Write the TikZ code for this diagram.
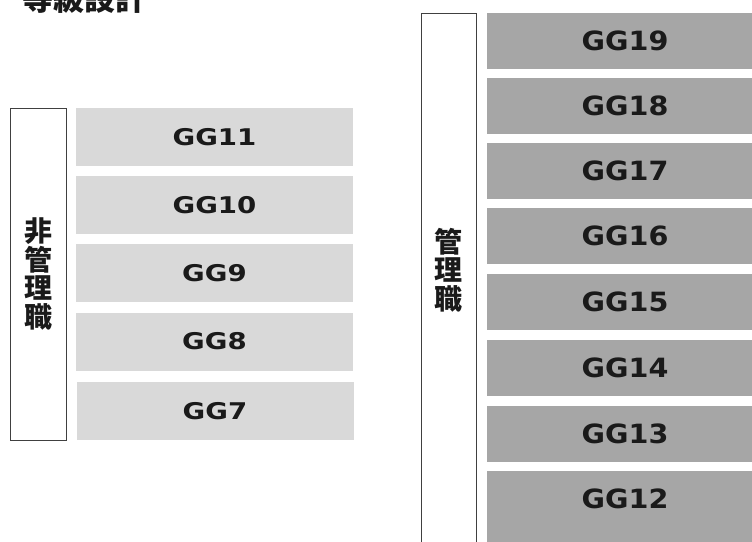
\documentclass[tikz,border=0pt]{standalone}
\usepackage{fontspec}
\newfontfamily\cjk{Noto Sans CJK JP}[BoldFont={Noto Sans CJK JP Black}]
\newfontfamily\ggfontl{DejaVu Sans}[FakeStretch=1.2]
\newfontfamily\ggfontr{DejaVu Sans}[FakeStretch=1.08]
\definecolor{lightbar}{HTML}{D9D9D9}
\definecolor{darkbar}{HTML}{A6A6A6}
\definecolor{txt}{HTML}{1A1A1A}
\definecolor{frame}{HTML}{404040}
\tikzset{
  bar/.style={inner sep=0pt, text=txt},
  lbar/.style={bar, fill=lightbar, minimum width=277pt, minimum height=58pt,
    font=\ggfontl\bfseries\fontsize{23}{28}\selectfont},
  rbar/.style={bar, fill=darkbar, minimum width=276pt, minimum height=56pt,
    font=\ggfontr\bfseries\fontsize{26.5}{30}\selectfont},
  labelbox/.style={draw=frame, line width=1pt, fill=white, inner sep=0pt},
  vlabel/.style={inner sep=0pt, text=txt, align=center,
    font=\cjk\bfseries\fontsize{28}{28.5}\selectfont},
}
\begin{document}
\begin{tikzpicture}[x=1pt,y=-1pt]
\clip (0,0) rectangle (752,541);
% title (cut off at top)
\node[inner sep=0pt, anchor=base west, text=txt, font=\cjk\bfseries\fontsize{31}{34}\selectfont] (title) at (22,10) {等級設計};
% left group
\node[labelbox, minimum width=56pt, minimum height=332pt] (lbox) at (38,274) {};
\node[vlabel] (llabel) at (lbox.center) {非\\管\\理\\職};
\node[lbar] (gg11) at (214.5,137) {GG11};
\node[lbar] (gg10) at (214.5,205) {GG10};
\node[lbar] (gg9)  at (214.5,273) {GG9};
\node[lbar] (gg8)  at (214.5,341.5) {GG8};
\node[lbar] (gg7)  at (215,411) {GG7};
% right group
\node[labelbox, minimum width=55pt, minimum height=560pt] (rbox) at (448.5,293) {};
\node[vlabel] (rlabel) at (448.5,270) {管\\理\\職};
\fill[darkbar] (487,520) rectangle (763,545);
\node[rbar] (gg19) at (625,41) {GG19};
\node[rbar] (gg18) at (625,106) {GG18};
\node[rbar] (gg17) at (625,171) {GG17};
\node[rbar] (gg16) at (625,236) {GG16};
\node[rbar] (gg15) at (625,302) {GG15};
\node[rbar] (gg14) at (625,368) {GG14};
\node[rbar] (gg13) at (625,433.5) {GG13};
\node[rbar] (gg12) at (625,499) {GG12};
\end{tikzpicture}
\end{document}
